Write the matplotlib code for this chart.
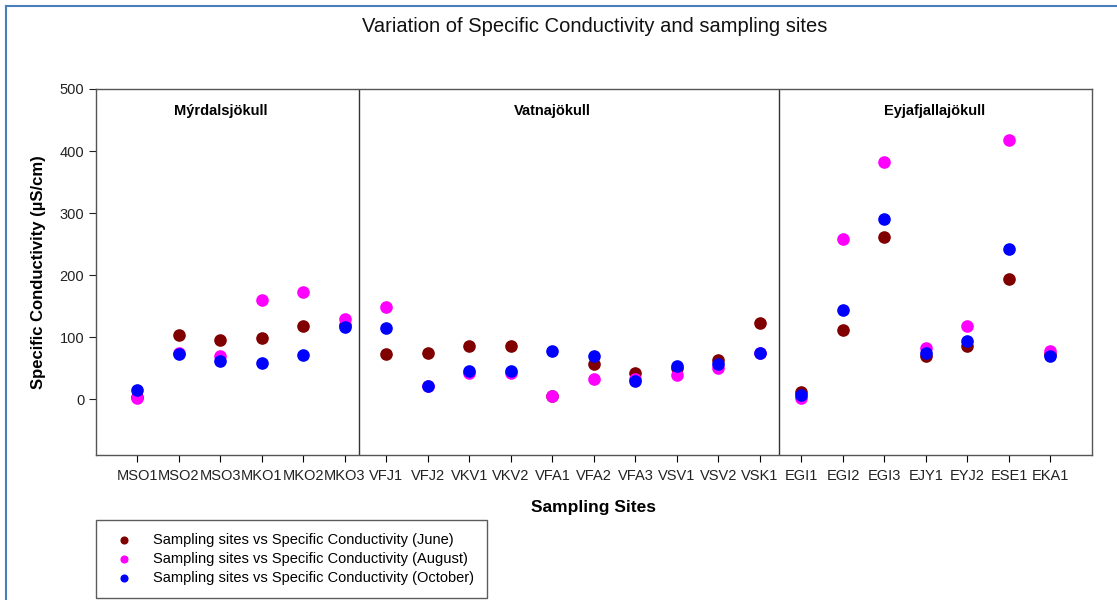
import numpy as np
import matplotlib
matplotlib.use("Agg")
import matplotlib.pyplot as plt
from matplotlib.lines import Line2D

plt.rcParams["font.family"] = ["Liberation Sans", "DejaVu Sans"]

# sampling sites and specific conductivity (uS/cm)
sites = ["MSO1", "MSO2", "MSO3", "MKO1", "MKO2", "MKO3",
         "VFJ1", "VFJ2", "VKV1", "VKV2", "VFA1", "VFA2", "VFA3", "VSV1", "VSV2", "VSK1",
         "EGI1", "EGI2", "EGI3", "EJY1", "EYJ2", "ESE1", "EKA1"]
june = [3, 104, 96, 99, 118, 120,
        73, 75, 86, 86, 5, 57, 42, 50, 63, 123,
        11, 112, 262, 70, 86, 194, 72]
august = [2, 75, 69, 160, 172, 129,
          149, 22, 42, 42, 5, 33, 33, 39, 50, 75,
          2, 258, 382, 82, 118, 418, 78]
october = [14, 73, 62, 59, 71, 117,
           115, 22, 45, 45, 78, 70, 30, 53, 56, 75,
           7, 144, 290, 75, 94, 242, 70]

regions = ["Mýrdalsjökull", "Vatnajökull", "Eyjafjallajökull"]
region_centers = [2.0, 10.0, 19.2]
region_breaks = [5.35, 15.45]

x = np.arange(len(sites))

fig = plt.figure(figsize=(11.17, 6), dpi=100)
ax = fig.add_axes([0.0859, 0.2417, 0.8917, 0.61])

ax.scatter(x, june, s=65, color="#800000", zorder=3,
           label="Sampling sites vs Specific Conductivity (June)")
ax.scatter(x, august, s=65, color="#ff00ff", zorder=3,
           label="Sampling sites vs Specific Conductivity (August)")
ax.scatter(x, october, s=65, color="#0000ff", zorder=3,
           label="Sampling sites vs Specific Conductivity (October)")

# separators between glacier groups
for b in region_breaks:
    ax.axvline(b, color="#333333", linewidth=1)
for name, c in zip(regions, region_centers):
    ax.text(c, 465, name, ha="center", va="center", fontsize=10.5, fontweight="bold")

ax.set_xlim(-1, 23)
ax.set_ylim(-90, 500)
ax.set_xticks(x)
ax.set_xticklabels(sites, fontsize=10.5, color="#222222")
ax.set_yticks([0, 100, 200, 300, 400, 500])
ax.tick_params(axis="y", labelsize=10.5, colors="#222222", length=5)
ax.tick_params(axis="x", length=5, pad=5)
for sp in ax.spines.values():
    sp.set_color("#555555")
    sp.set_linewidth(1)

ax.set_xlabel("Sampling Sites", fontsize=12.5, fontweight="bold", labelpad=12)
ax.set_ylabel("Specific Conductivity (µS/cm)", fontsize=12, fontweight="bold", labelpad=10)
fig.text(0.532, 0.955, "Variation of Specific Conductivity and sampling sites",
         ha="center", va="center", fontsize=14.5, color="#111111")

leg = fig.legend(loc="upper left", bbox_to_anchor=(0.0859, 0.1333), borderaxespad=0,
                 fontsize=10.5, frameon=True, fancybox=False, markerscale=0.6,
                 handletextpad=1.0, borderpad=0.9, labelspacing=0.33)
leg.get_frame().set_edgecolor("#333333")
leg.get_frame().set_linewidth(1)

# thin blue frame along left and top edge of the picture
fig.add_artist(Line2D([0.0058, 0.0058], [0, 0.99], transform=fig.transFigure,
                      color="#4a7ebb", linewidth=1.5))
fig.add_artist(Line2D([0.0058, 1], [0.99, 0.99], transform=fig.transFigure,
                      color="#4a7ebb", linewidth=1.5))

fig.savefig("out.png", dpi=100)
